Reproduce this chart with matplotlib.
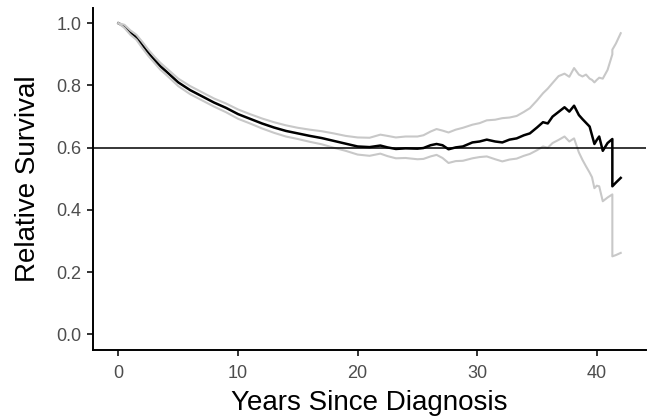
import matplotlib
matplotlib.use("Agg")
import matplotlib.pyplot as plt

plt.rcParams['font.family'] = ['Liberation Sans', 'DejaVu Sans']

# data
years = [0, 0.5, 1, 1.5, 2, 2.5, 3, 3.5, 4, 5, 6, 7, 8, 9, 10, 11, 12, 13, 14, 15,
         16, 17, 18, 19, 20, 21, 21.9, 22.5, 23.2, 24, 25, 25.5, 26.1, 26.6, 27.1,
         27.6, 28.2, 28.8, 29.6, 30.2, 30.8, 31.5, 32.1, 32.7, 33.3, 33.9, 34.4,
         35.0, 35.5, 35.9, 36.3, 36.8, 37.3, 37.7, 38.1, 38.5, 38.8, 39.1, 39.4,
         39.6, 39.8, 40.0, 40.2, 40.5, 40.9, 41.3, 41.3, 41.6, 42.0]

surv = [1.0, 0.99, 0.97, 0.955, 0.93, 0.905, 0.883, 0.862, 0.845, 0.81, 0.785,
        0.765, 0.745, 0.728, 0.708, 0.693, 0.678, 0.665, 0.654, 0.646, 0.638,
        0.631, 0.622, 0.613, 0.604, 0.602, 0.607, 0.601, 0.596, 0.598, 0.597,
        0.599, 0.608, 0.612, 0.608, 0.595, 0.601, 0.604, 0.617, 0.620, 0.626,
        0.620, 0.617, 0.626, 0.630, 0.640, 0.646, 0.665, 0.682, 0.678, 0.700,
        0.715, 0.730, 0.716, 0.735, 0.705, 0.692, 0.680, 0.668, 0.640, 0.612,
        0.625, 0.636, 0.590, 0.615, 0.628, 0.476, 0.488, 0.503]

upper = [1.0, 0.995, 0.977, 0.963, 0.94, 0.915, 0.893, 0.873, 0.856, 0.822, 0.798,
         0.778, 0.758, 0.742, 0.723, 0.708, 0.694, 0.682, 0.672, 0.664, 0.658,
         0.653, 0.646, 0.638, 0.633, 0.632, 0.642, 0.638, 0.633, 0.636, 0.636,
         0.640, 0.652, 0.660, 0.655, 0.649, 0.658, 0.664, 0.674, 0.679, 0.688,
         0.690, 0.695, 0.697, 0.702, 0.715, 0.727, 0.752, 0.775, 0.790, 0.808,
         0.830, 0.838, 0.828, 0.856, 0.835, 0.829, 0.835, 0.822, 0.818, 0.810,
         0.818, 0.825, 0.822, 0.850, 0.900, 0.915, 0.935, 0.968]

lower = [1.0, 0.985, 0.963, 0.947, 0.92, 0.895, 0.873, 0.851, 0.834, 0.798, 0.772,
         0.752, 0.732, 0.714, 0.693, 0.678, 0.662, 0.648, 0.636, 0.628, 0.619,
         0.611, 0.600, 0.590, 0.578, 0.574, 0.581, 0.573, 0.566, 0.567, 0.563,
         0.564, 0.572, 0.577, 0.567, 0.551, 0.557, 0.558, 0.566, 0.570, 0.572,
         0.563, 0.556, 0.562, 0.565, 0.574, 0.580, 0.592, 0.604, 0.600, 0.615,
         0.625, 0.636, 0.620, 0.630, 0.585, 0.561, 0.540, 0.520, 0.505, 0.470,
         0.478, 0.476, 0.428, 0.440, 0.450, 0.251, 0.255, 0.262]

ref_level = 0.6

fig = plt.figure(figsize=(6.55, 4.2), dpi=100)
ax = fig.add_axes([0.1425, 0.1667, 0.8435, 0.815])

ax.plot(years, surv, color='black', lw=1.8, zorder=2)
ax.plot(years, lower, color='#C8C8C8', lw=1.5, zorder=3)
ax.plot(years, upper, color='#C8C8C8', lw=1.5, zorder=3)
ax.axhline(ref_level, color='black', lw=1.1, zorder=4)

ax.set_xlim(-2.1, 44.1)
ax.set_ylim(-0.05, 1.05)
ax.set_xticks([0, 10, 20, 30, 40])
ax.set_yticks([0.0, 0.2, 0.4, 0.6, 0.8, 1.0])
ax.set_yticklabels(['0.0', '0.2', '0.4', '0.6', '0.8', '1.0'])

for s in ['top', 'right']:
    ax.spines[s].set_visible(False)
for s in ['left', 'bottom']:
    ax.spines[s].set_linewidth(1.4)
    ax.spines[s].set_color('black')

ax.tick_params(axis='both', length=4, width=1.4, color='#333333',
               labelcolor='#4D4D4D', labelsize=13)
ax.tick_params(axis='x', pad=6.5)
ax.tick_params(axis='y', pad=4.5)

ax.set_xlabel("Years Since Diagnosis", fontsize=20, labelpad=6)
ax.set_ylabel("Relative Survival", fontsize=20, labelpad=11)

fig.savefig("out.png", dpi=100)
